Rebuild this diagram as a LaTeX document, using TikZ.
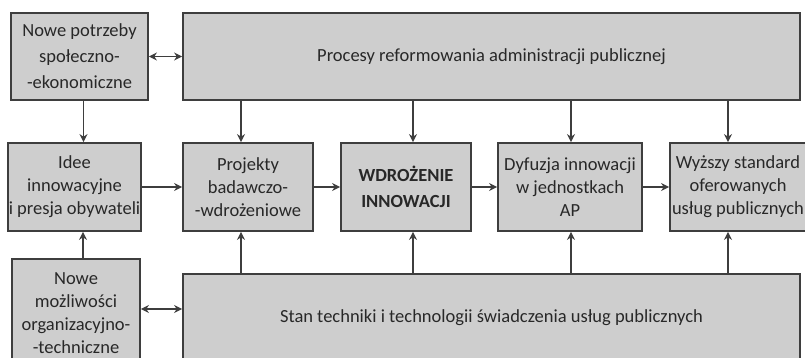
\documentclass[tikz,border=0pt]{standalone}
\usepackage{fontspec}
\setmainfont{Carlito}
\usetikzlibrary{arrows.meta}

\definecolor{boxfill}{RGB}{206,206,206}
\definecolor{boxline}{RGB}{62,62,62}
\definecolor{boxtext}{RGB}{40,40,40}

\tikzset{
  blok/.style={draw=boxline, fill=boxfill, line width=1.8pt, align=center,
    text=boxtext, inner sep=0pt, font=\fontsize{18.5}{23}\selectfont},
  arr/.style={->, draw=boxline, line width=1.4pt},
  darr/.style={<->, draw=boxline, line width=1.4pt},
}

\begin{document}
\begin{tikzpicture}[x=1pt, y=-1pt, >={Stealth[length=8pt,width=8pt]}]
	% Fix the frame of the picture
	\useasboundingbox (0,0) rectangle (805,358);
	\clip (0,0) rectangle (805,358);

	% Top row
	\node[blok, minimum width=137pt, minimum height=87pt, font=\fontsize{18.5}{26}\selectfont] (potrzeby) at (79.5,56.5) {Nowe potrzeby\\społeczno-\\-ekonomiczne};
	\node[blok, minimum width=617pt, minimum height=87pt] (procesy) at (491.5,56.5) {Procesy reformowania administracji publicznej};

	% Middle row
	\node[blok, minimum width=133pt, minimum height=88pt] (idee) at (74.5,187) {Idee\\innowacyjne\\i presja obywateli};
	\node[blok, minimum width=130pt, minimum height=88pt] (projekty) at (248,187) {Projekty\\badawczo-\\-wdrożeniowe};
	\node[blok, minimum width=130pt, minimum height=88pt, font=\fontsize{18.5}{26}\selectfont\bfseries] (wdrozenie) at (406,187) {WDROŻENIE\\INNOWACJI};
	\node[blok, minimum width=144pt, minimum height=88pt] (dyfuzja) at (570,187) {Dyfuzja innowacji\\w jednostkach\\AP};
	\node[blok, minimum width=136pt, minimum height=88pt] (wyzszy) at (738,187) {Wyższy standard\\oferowanych\\usług publicznych};

	% Bottom row
	\node[blok, minimum width=128pt, minimum height=108pt] (mozliwosci) at (76,313) {Nowe\\możliwości\\organizacyjno-\\-techniczne};
	\node[blok, minimum width=617pt, minimum height=88pt] (stan) at (491.5,318) {Stan techniki i technologii świadczenia usług publicznych};

	% Side links
	\draw[darr] (potrzeby.east |- procesy.west) -- (procesy.west);
	\draw[darr] ([yshift=4pt]mozliwosci.east) -- ([yshift=4pt]mozliwosci.east -| stan.west);
	\draw[arr] ([xshift=4pt]potrzeby.south) -- ([xshift=4pt]potrzeby.south |- idee.north);
	\draw[arr] ([xshift=7pt]mozliwosci.north) -- ([xshift=7pt]mozliwosci.north |- idee.south);

	% Main chain
	\draw[arr] (idee) -- (projekty);
	\draw[arr] (projekty) -- (wdrozenie);
	\draw[arr] (wdrozenie) -- (dyfuzja);
	\draw[arr] (dyfuzja) -- (wyzszy);

	% Links from the top and bottom bands
	\foreach \n/\dx in {projekty/-7, wdrozenie/7, dyfuzja/1, wyzszy/-10} {
		\draw[arr] ([xshift=\dx pt]\n.north |- procesy.south) -- ([xshift=\dx pt]\n.north);
		\draw[arr] ([xshift=\dx pt]\n.south |- stan.north) -- ([xshift=\dx pt]\n.south);
	}
\end{tikzpicture}
\end{document}
